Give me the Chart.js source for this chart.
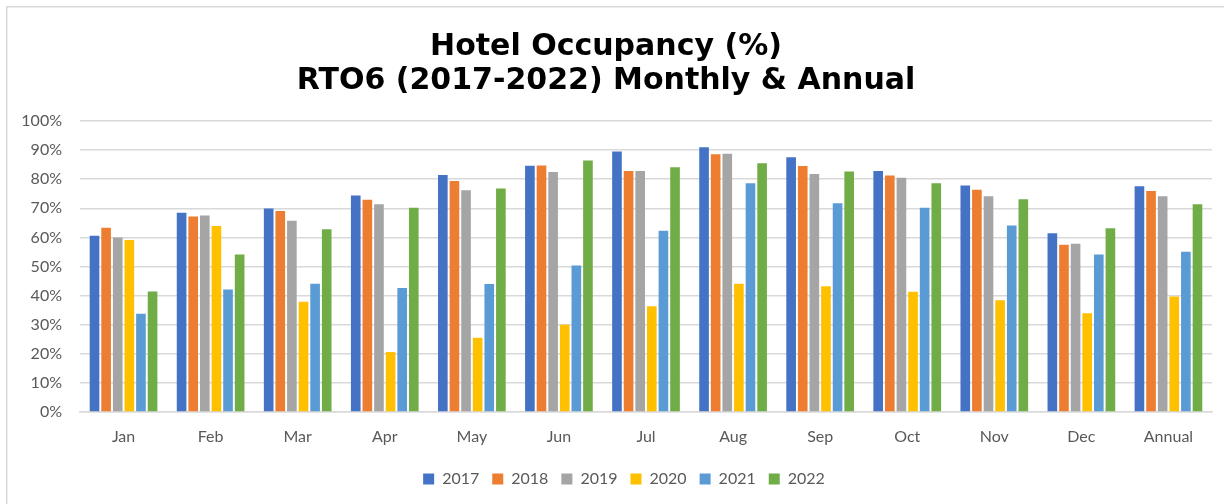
<!DOCTYPE html>
<html>
<head>
<meta charset="utf-8">
<script src="https://cdn.jsdelivr.net/npm/chart.js@4.4.1/dist/chart.umd.min.js"></script>
<style>
  html, body { margin: 0; padding: 0; background: #ffffff; }
  #wrap { width: 1224px; height: 504px; position: relative; }
</style>
</head>
<body>
<div id="wrap"><canvas id="c" width="1224" height="504"></canvas></div>
<script>
const categories = ['Jan','Feb','Mar','Apr','May','Jun','Jul','Aug','Sep','Oct','Nov','Dec','Annual'];
const years = ['2017','2018','2019','2020','2021','2022'];
const v2017 = [60.6, 68.5, 69.9, 74.4, 81.4, 84.6, 89.5, 91.0, 87.5, 82.8, 77.8, 61.4, 77.6];
const v2018 = [63.3, 67.2, 69.1, 72.9, 79.4, 84.7, 82.8, 88.6, 84.5, 81.3, 76.4, 57.5, 75.9];
const v2019 = [60.0, 67.5, 65.7, 71.4, 76.2, 82.5, 82.8, 88.7, 81.8, 80.5, 74.1, 57.8, 74.1];
const v2020 = [59.1, 63.9, 37.9, 20.6, 25.5, 30.0, 36.3, 44.1, 43.2, 41.3, 38.4, 33.9, 39.7];
const v2021 = [33.8, 42.1, 44.1, 42.6, 44.0, 50.3, 62.3, 78.6, 71.7, 70.2, 64.1, 54.1, 55.1];
const v2022 = [41.4, 54.1, 62.8, 70.2, 76.8, 86.4, 84.1, 85.5, 82.6, 78.6, 73.1, 63.1, 71.4];
const yTicks = [0,10,20,30,40,50,60,70,80,90,100];
const colors = ['#4472C4','#ED7D31','#A5A5A5','#FFC000','#5B9BD5','#70AD47'];
const series = [v2017, v2018, v2019, v2020, v2021, v2022];

const frame = {
  id: 'frame',
  beforeDraw(chart) {
    const ctx = chart.ctx;
    ctx.save();
    ctx.fillStyle = '#ffffff';
    ctx.fillRect(0, 0, chart.width, chart.height);
    ctx.strokeStyle = '#d9d9d9';
    ctx.lineWidth = 1.5;
    ctx.beginPath();
    ctx.moveTo(6.75, chart.height);
    ctx.lineTo(6.75, 6.75);
    ctx.lineTo(chart.width, 6.75);
    ctx.stroke();
    ctx.restore();
  }
};

const legendShift = {
  id: 'legendShift',
  afterLayout(chart) {
    if (chart.legend) {
      chart.legend.left += 18;
      chart.legend.right += 18;
    }
  }
};

new Chart(document.getElementById('c'), {
  type: 'bar',
  data: {
    labels: categories,
    datasets: years.map((y, i) => ({
      label: y,
      data: series[i],
      backgroundColor: colors[i],
      borderWidth: 0
    }))
  },
  options: {
    responsive: false,
    animation: false,
    devicePixelRatio: 1,
    layout: { padding: { left: 0, right: 12, top: 0, bottom: 7 } },
    datasets: { bar: { categoryPercentage: 0.8, barPercentage: 0.83 } },
    plugins: {
      title: {
        display: true,
        text: ['Hotel Occupancy (%)', 'RTO6 (2017-2022) Monthly & Annual'],
        color: '#000000',
        font: { family: 'DejaVu Sans', size: 30, weight: 'bold', lineHeight: 1.133 },
        padding: { top: 30, bottom: 23 }
      },
      legend: {
        position: 'bottom',
        labels: {
          boxWidth: 11, boxHeight: 11,
          color: '#595959',
          padding: 13,
          font: { family: 'Lato', size: 16 }
        }
      },
      tooltip: { enabled: false }
    },
    scales: {
      x: {
        grid: { display: false, drawTicks: false },
        border: { color: '#d9d9d9', width: 1.5 },
        ticks: { color: '#595959', font: { family: 'Lato', size: 16 }, padding: 15, maxRotation: 0 },
        afterFit(scale) { scale.height = 46; }
      },
      y: {
        min: 0, max: 100,
        afterBuildTicks(scale) { scale.ticks = yTicks.map(v => ({ value: v })); },
        grid: { color: '#d9d9d9', lineWidth: 1.5, drawTicks: false },
        border: { display: false },
        ticks: { color: '#595959', font: { family: 'Lato', size: 16 }, padding: 18, callback: v => v + '%' },
        afterFit(scale) { scale.width = 80; }
      }
    }
  },
  plugins: [frame, legendShift]
});
</script>
</body>
</html>
